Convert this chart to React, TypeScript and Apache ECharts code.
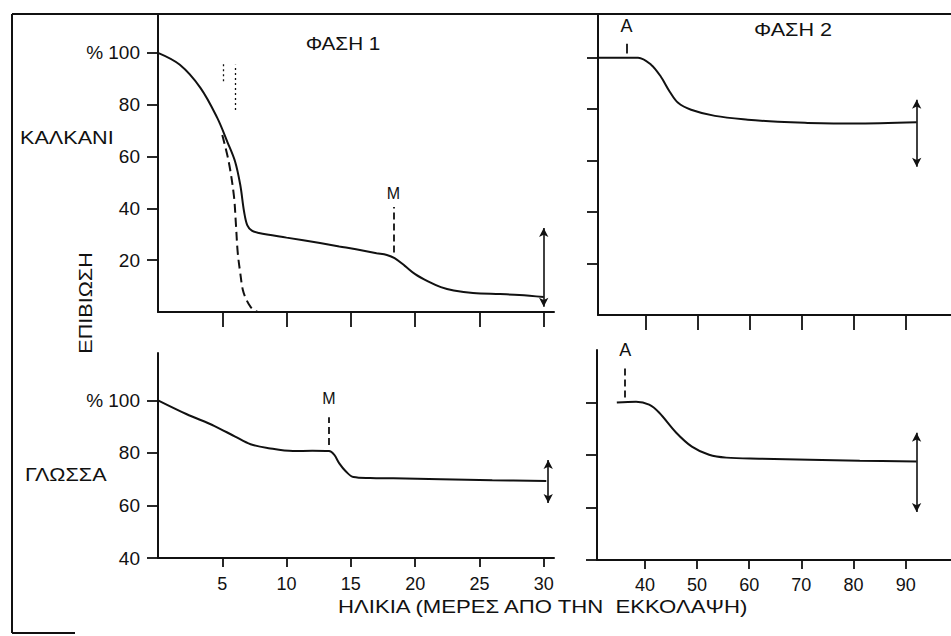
import React, { useEffect, useRef } from 'react';
import * as echarts from 'echarts';

// ---- Data ----
// ΚΑΛΚΑΝΙ, ΦΑΣΗ 1 (solid curve)
const kalkaniP1Age = [0, 1.7, 3.3, 4.6, 5.4, 6.0, 6.4, 6.7, 6.95, 7.3, 7.85, 10, 12.6, 14.1, 15.4, 17, 17.8, 18.4, 19.2, 20.0, 21.0, 22.0, 23.0, 24.5, 26.6, 28.1, 30];
const kalkaniP1Surv = [100, 95.4, 86.5, 75, 65.6, 58, 49, 38.6, 33.4, 31.4, 30.5, 28.7, 26.6, 25.3, 24.2, 22.7, 22, 20.8, 17.8, 14.6, 11.8, 9.6, 8.3, 7.3, 6.9, 6.6, 5.8];
// ΚΑΛΚΑΝΙ, ΦΑΣΗ 1 (dashed curve)
const kalkaniP1DashAge = [5.0, 5.5, 5.9, 6.05, 6.2, 6.4, 6.6, 6.9, 7.2, 7.5, 7.8];
const kalkaniP1DashSurv = [68.3, 58, 45, 34.7, 23, 15, 8.5, 4.5, 2, 0.6, 0];
// ΓΛΩΣΣΑ, ΦΑΣΗ 1
const glossaP1Age = [0, 2.2, 4.4, 6.0, 7.2, 8.6, 10.5, 12.0, 13.3, 13.7, 14.1, 14.6, 15.2, 16.5, 18.3, 22, 26, 30.2];
const glossaP1Surv = [100, 94.8, 90.2, 86.2, 83.3, 81.8, 80.7, 80.8, 80.7, 79.3, 76, 73, 70.8, 70.4, 70.3, 70, 69.6, 69.3];
// ΚΑΛΚΑΝΙ, ΦΑΣΗ 2
const kalkaniP2Age = [30.8, 38.5, 41, 42.9, 44.6, 46.2, 48.7, 53.3, 59.6, 65.4, 70.6, 79.8, 92.1];
const kalkaniP2Surv = [100, 100, 97.3, 92.6, 86.8, 82.5, 79.8, 77.4, 75.9, 75.1, 74.7, 74.4, 74.9];
// ΓΛΩΣΣΑ, ΦΑΣΗ 2
const glossaP2Age = [34.6, 38.3, 40.8, 42.7, 46, 49, 52.3, 55.6, 61.9, 81.2, 92.1];
const glossaP2Surv = [100, 100.3, 99.2, 96.2, 88.5, 83.2, 80.1, 79, 78.6, 77.8, 77.5];

// tick values
const phase1Ticks = [5, 10, 15, 20, 25, 30];
const phase2Ticks = [40, 50, 60, 70, 80, 90];
const topYTicks = [20, 40, 60, 80, 100];
const bottomYTicks = [40, 60, 80, 100];

// range arrows: [age, low, high]
const kalkaniP1Range = [30, 2, 32.4];
const glossaP1Range = [30.35, 60.9, 77.3];
const kalkaniP2Range = [92.1, 57.6, 83.7];
const glossaP2Range = [92.1, 58.3, 88.5];

// event markers: [age, low, high]
const kalkaniP1M = [18.3, 23, 40.5];
const glossaP1M = [13.3, 83, 93.6];
const kalkaniP2A = [36.3, 101.6, 105.4];
const glossaP2A = [36.2, 101.9, 113.7];
const dottedMarks = [[5.1, 89, 96], [6.0, 78, 95.4]];

const INK = '#111';
const FONT = '"Liberation Sans", Arial, Helvetica, sans-serif';

const zip = (xs: number[], ys: number[]) => xs.map((x, i) => [x, ys[i]]);

const arrowItem = (r: number[]) => [
  { coord: [r[0], r[1]], symbol: 'arrow', symbolSize: [7, 9], lineStyle: { type: 'solid', width: 1.6, color: INK }, label: { show: false } },
  { coord: [r[0], r[2]], symbol: 'arrow', symbolSize: [7, 9] },
];

const markerItem = (m: number[], text: string, dashed: boolean, dist: number, size: number) => [
  {
    coord: [m[0], m[1]],
    symbol: 'none',
    lineStyle: { type: dashed ? [7, 4] : 'solid', width: 1.8, color: INK },
    label: { show: true, formatter: text, position: 'end', distance: dist, color: INK, fontSize: size, fontFamily: FONT },
  },
  { coord: [m[0], m[2]], symbol: 'none' },
];

const dottedItem = (d: number[]) => [
  { coord: [d[0], d[1]], symbol: 'none', lineStyle: { type: [2, 3], width: 1.3, color: INK }, label: { show: false } },
  { coord: [d[0], d[2]], symbol: 'none' },
];

const xAxisBase = (idx: number, min: number, max: number, ticks: number[], showLabels: boolean, tickLen: number, margin: number) => ({
  type: 'value',
  gridIndex: idx,
  min,
  max,
  axisLine: { show: true, onZero: false, lineStyle: { color: INK, width: 2 } },
  axisTick: { show: true, length: tickLen, customValues: ticks, lineStyle: { color: INK, width: 1.8 } },
  axisLabel: { show: showLabels, customValues: ticks, color: INK, fontSize: 18, fontFamily: FONT, margin },
  splitLine: { show: false },
});

const yAxisBase = (idx: number, min: number, max: number, ticks: number[], showLabels: boolean) => ({
  type: 'value',
  gridIndex: idx,
  min,
  max,
  axisLine: { show: true, onZero: false, lineStyle: { color: INK, width: 2 } },
  axisTick: { show: true, length: 11, customValues: ticks, lineStyle: { color: INK, width: 1.8 } },
  axisLabel: {
    show: showLabels,
    customValues: ticks,
    color: INK,
    fontSize: 19,
    fontFamily: FONT,
    margin: 18,
    formatter: (v: number) => (v === 100 ? '% 100' : String(v)),
  },
  splitLine: { show: false },
});

const curve = (xi: number, data: number[][], dashed: boolean, markData: any[]) => ({
  type: 'line',
  xAxisIndex: xi,
  yAxisIndex: xi,
  data,
  symbol: 'none',
  showSymbol: false,
  smooth: 0.35,
  lineStyle: { color: INK, width: 2, type: dashed ? [9, 5] : 'solid' },
  silent: true,
  markLine: markData.length
    ? { silent: true, symbol: ['none', 'none'], animation: false, data: markData }
    : undefined,
});

const txt = (text: string, x: number, y: number, sx: number, align: string, size = 18, rotation = 0) => ({
  type: 'text',
  x,
  y,
  scaleX: sx,
  rotation,
  style: {
    text,
    font: `${size}px ${FONT}`,
    fill: INK,
    textAlign: align,
    textVerticalAlign: 'middle',
    align,
    verticalAlign: 'middle',
  },
});

const frameLine = (x1: number, y1: number, x2: number, y2: number) => ({
  type: 'line',
  shape: { x1, y1, x2, y2 },
  style: { stroke: INK, lineWidth: 2 },
});

export default function App() {
  const ref = useRef<HTMLDivElement>(null);
  useEffect(() => {
    if (!ref.current) return;
    const chart = echarts.init(ref.current, undefined, { renderer: 'svg' });
    chart.setOption({
      animation: false,
      backgroundColor: '#fff',
      grid: [
        { left: 158, top: 14, width: 396, height: 298 },
        { left: 598, top: 14, width: 353, height: 301 },
        { left: 158, top: 353, width: 396, height: 205 },
        { left: 597, top: 350, width: 354, height: 210 },
      ],
      xAxis: [
        xAxisBase(0, 0, 30.8, phase1Ticks, false, 15, 16),
        xAxisBase(1, 30.8, 98.7, phase2Ticks, false, 15, 16),
        xAxisBase(2, 0, 30.8, phase1Ticks, true, 9, 17),
        xAxisBase(3, 30.8, 98.7, phase2Ticks, true, 9, 16),
      ],
      yAxis: [
        yAxisBase(0, 0, 115, topYTicks, true),
        yAxisBase(1, 0, 117, topYTicks, false),
        yAxisBase(2, 40, 118, bottomYTicks, true),
        yAxisBase(3, 40, 120, bottomYTicks, false),
      ],
      series: [
        curve(0, zip(kalkaniP1Age, kalkaniP1Surv), false, [
          arrowItem(kalkaniP1Range),
          markerItem(kalkaniP1M, 'M', true, 6, 16),
          ...dottedMarks.map(dottedItem),
        ]),
        curve(0, zip(kalkaniP1DashAge, kalkaniP1DashSurv), true, []),
        curve(1, zip(kalkaniP2Age, kalkaniP2Surv), false, [
          arrowItem(kalkaniP2Range),
          markerItem(kalkaniP2A, 'A', false, 9, 18),
        ]),
        curve(2, zip(glossaP1Age, glossaP1Surv), false, [
          arrowItem(glossaP1Range),
          markerItem(glossaP1M, 'M', true, 11, 16),
        ]),
        curve(3, zip(glossaP2Age, glossaP2Surv), false, [
          arrowItem(glossaP2Range),
          markerItem(glossaP2A, 'A', true, 8, 18),
        ]),
      ],
      graphic: [
        frameLine(12, 14, 951, 14),
        frameLine(12, 14, 12, 633),
        frameLine(12, 633, 75, 633),
        txt('ΦΑΣΗ 1', 343, 44, 1.15, 'center'),
        txt('ΦΑΣΗ 2', 793, 30, 1.2, 'center'),
        txt('ΚΑΛΚΑΝΙ', 20, 138, 1.2, 'left'),
        txt('ΓΛΩΣΣΑ', 25, 475, 1.2, 'left'),
        txt('ΕΠΙΒΙΩΣΗ', 86, 303, 1.2, 'center', 18, Math.PI / 2),
        txt('ΗΛΙΚΙΑ (ΜΕΡΕΣ ΑΠΟ ΤΗΝ  ΕΚΚΟΛΑΨΗ)', 338, 607, 1.23, 'left'),
      ],
    });
    return () => chart.dispose();
  }, []);
  return (
    <div
      ref={ref}
      style={{ position: 'fixed', left: 0, top: 0, width: 951, height: 636, background: '#fff' }}
    />
  );
}
